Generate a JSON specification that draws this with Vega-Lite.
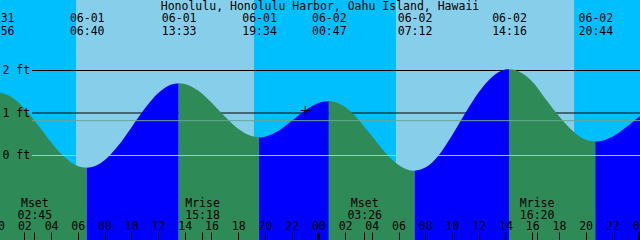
{
  "$schema": "https://vega.github.io/schema/vega-lite/v6.json",
  "width": 640,
  "height": 240,
  "autosize": {"type": "none"},
  "padding": 0,
  "title": {
    "text": "Honolulu, Honolulu Harbor, Oahu Island, Hawaii",
    "anchor": "middle",
    "frame": "group",
    "offset": -21,
    "baseline": "alphabetic",
    "font": "DejaVu Sans Mono",
    "fontSize": 11.5,
    "fontWeight": "normal",
    "color": "black"
  },
  "datasets": {
    "sky": [
      {"start": 0, "end": 5.8667, "sun": "night"},
      {"start": 5.8667, "end": 19.1833, "sun": "day"},
      {"start": 19.1833, "end": 29.8167, "sun": "night"},
      {"start": 29.8167, "end": 43.1333, "sun": "day"},
      {"start": 43.1333, "end": 49, "sun": "night"}
    ],
    "levels": [
      {"level": 1, "line": "depth"},
      {"level": 2, "line": "depth"},
      {"level": 0, "line": "datum"},
      {"level": 0.82, "line": "msl"}
    ],
    "tide": [
      {"hour": -0.0667, "ft": 1.49, "seg": 1, "phase": "falling"},
      {"hour": 1, "ft": 1.382, "seg": 1, "phase": "falling"},
      {"hour": 2, "ft": 1.108, "seg": 1, "phase": "falling"},
      {"hour": 3, "ft": 0.724, "seg": 1, "phase": "falling"},
      {"hour": 4, "ft": 0.314, "seg": 1, "phase": "falling"},
      {"hour": 5, "ft": -0.033, "seg": 1, "phase": "falling"},
      {"hour": 6, "ft": -0.247, "seg": 1, "phase": "falling"},
      {"hour": 6.6667, "ft": -0.29, "seg": 1, "phase": "falling"},
      {"hour": 6.6667, "ft": -0.29, "seg": 2, "phase": "rising"},
      {"hour": 7, "ft": -0.279, "seg": 2, "phase": "rising"},
      {"hour": 8, "ft": -0.112, "seg": 2, "phase": "rising"},
      {"hour": 9, "ft": 0.222, "seg": 2, "phase": "rising"},
      {"hour": 10, "ft": 0.656, "seg": 2, "phase": "rising"},
      {"hour": 11, "ft": 1.098, "seg": 2, "phase": "rising"},
      {"hour": 12, "ft": 1.463, "seg": 2, "phase": "rising"},
      {"hour": 13, "ft": 1.669, "seg": 2, "phase": "rising"},
      {"hour": 13.55, "ft": 1.70, "seg": 2, "phase": "rising"},
      {"hour": 13.55, "ft": 1.70, "seg": 3, "phase": "falling"},
      {"hour": 14, "ft": 1.683, "seg": 3, "phase": "falling"},
      {"hour": 15, "ft": 1.527, "seg": 3, "phase": "falling"},
      {"hour": 16, "ft": 1.248, "seg": 3, "phase": "falling"},
      {"hour": 17, "ft": 0.92, "seg": 3, "phase": "falling"},
      {"hour": 18, "ft": 0.631, "seg": 3, "phase": "falling"},
      {"hour": 19, "ft": 0.458, "seg": 3, "phase": "falling"},
      {"hour": 19.5667, "ft": 0.43, "seg": 3, "phase": "falling"},
      {"hour": 19.5667, "ft": 0.43, "seg": 4, "phase": "rising"},
      {"hour": 20, "ft": 0.444, "seg": 4, "phase": "rising"},
      {"hour": 21, "ft": 0.579, "seg": 4, "phase": "rising"},
      {"hour": 22, "ft": 0.81, "seg": 4, "phase": "rising"},
      {"hour": 23, "ft": 1.058, "seg": 4, "phase": "rising"},
      {"hour": 24, "ft": 1.234, "seg": 4, "phase": "rising"},
      {"hour": 24.7833, "ft": 1.28, "seg": 4, "phase": "rising"},
      {"hour": 24.7833, "ft": 1.28, "seg": 5, "phase": "falling"},
      {"hour": 25, "ft": 1.275, "seg": 5, "phase": "falling"},
      {"hour": 26, "ft": 1.139, "seg": 5, "phase": "falling"},
      {"hour": 27, "ft": 0.843, "seg": 5, "phase": "falling"},
      {"hour": 28, "ft": 0.457, "seg": 5, "phase": "falling"},
      {"hour": 29, "ft": 0.07, "seg": 5, "phase": "falling"},
      {"hour": 30, "ft": -0.222, "seg": 5, "phase": "falling"},
      {"hour": 31, "ft": -0.356, "seg": 5, "phase": "falling"},
      {"hour": 31.2, "ft": -0.36, "seg": 5, "phase": "falling"},
      {"hour": 31.2, "ft": -0.36, "seg": 6, "phase": "rising"},
      {"hour": 32, "ft": -0.285, "seg": 6, "phase": "rising"},
      {"hour": 33, "ft": 0.003, "seg": 6, "phase": "rising"},
      {"hour": 34, "ft": 0.47, "seg": 6, "phase": "rising"},
      {"hour": 35, "ft": 1.0, "seg": 6, "phase": "rising"},
      {"hour": 36, "ft": 1.49, "seg": 6, "phase": "rising"},
      {"hour": 37, "ft": 1.85, "seg": 6, "phase": "rising"},
      {"hour": 38, "ft": 2.022, "seg": 6, "phase": "rising"},
      {"hour": 38.2667, "ft": 2.03, "seg": 6, "phase": "rising"},
      {"hour": 38.2667, "ft": 2.03, "seg": 7, "phase": "falling"},
      {"hour": 39, "ft": 1.977, "seg": 7, "phase": "falling"},
      {"hour": 40, "ft": 1.74, "seg": 7, "phase": "falling"},
      {"hour": 41, "ft": 1.33, "seg": 7, "phase": "falling"},
      {"hour": 42, "ft": 0.93, "seg": 7, "phase": "falling"},
      {"hour": 43, "ft": 0.59, "seg": 7, "phase": "falling"},
      {"hour": 44, "ft": 0.37, "seg": 7, "phase": "falling"},
      {"hour": 44.7333, "ft": 0.33, "seg": 7, "phase": "falling"},
      {"hour": 44.7333, "ft": 0.33, "seg": 8, "phase": "rising"},
      {"hour": 45, "ft": 0.335, "seg": 8, "phase": "rising"},
      {"hour": 46, "ft": 0.443, "seg": 8, "phase": "rising"},
      {"hour": 47, "ft": 0.658, "seg": 8, "phase": "rising"},
      {"hour": 48, "ft": 0.914, "seg": 8, "phase": "rising"},
      {"hour": 49, "ft": 1.133, "seg": 8, "phase": "rising"}
    ],
    "now": [
      {"hour": 23.0167, "ft": 1.06}
    ]
  },
  "resolve": {"scale": {"color": "independent"}, "axis": {"x": "independent", "y": "independent"}},
  "layer": [
    {
      "data": {"name": "sky"},
      "mark": {"type": "rect", "clip": true},
      "encoding": {
        "x": {
          "field": "start", "type": "quantitative",
          "scale": {"domain": [0.1796, 48.0696], "nice": false, "zero": false},
          "axis": {
            "orient": "top", "title": null, "offset": -21, "ticks": false, "tickSize": 0, "domain": false, "grid": false, "zindex": 1,
            "labelPadding": 0, "labelBaseline": "alphabetic", "labelLineHeight": 13, "labelAlign": "center",
            "values": [0.18, 6.6667, 13.55, 19.5667, 24.7833, 31.2, 38.2667, 44.7333],
            "labelOffset": {"condition": {"test": "datum.value < 0.5", "value": -3.3}, "value": 0},
            "labelExpr": "[timeFormat(time(datetime(2025, 5, 1)) + round((datum.value < 0.5 ? -0.0667 : datum.value) * 60) * 60000, '%m-%d') + ' ', timeFormat(time(datetime(2025, 5, 1)) + round((datum.value < 0.5 ? -0.0667 : datum.value) * 60) * 60000, '%H:%M')]"
          }
        },
        "x2": {"field": "end"},
        "color": {"field": "sun", "type": "nominal", "scale": {"domain": ["day", "night"], "range": ["#87CEEB", "#00BFFF"]}, "legend": null}
      }
    },
    {
      "data": {"name": "levels"},
      "transform": [{"filter": "datum.line === 'depth'"}],
      "mark": {"type": "rule", "color": "black", "strokeWidth": 1},
      "encoding": {
        "x": {"datum": 2.574, "type": "quantitative", "scale": {"domain": [0.1796, 48.0696], "nice": false, "zero": false}, "axis": null},
        "x2": {"datum": 48.0696},
        "y": {"field": "level", "type": "quantitative", "scale": {"domain": [-1.988, 3.659], "nice": false, "zero": false}, "axis": null}
      }
    },
    {
      "data": {"name": "tide"},
      "mark": {"type": "area", "interpolate": "monotone", "clip": true},
      "encoding": {
        "x": {
          "field": "hour", "type": "quantitative",
          "scale": {"domain": [0.1796, 48.0696], "nice": false, "zero": false},
          "axis": {
            "orient": "bottom", "title": null, "offset": -8, "tickSize": 8, "domain": false, "grid": false, "zindex": 1,
            "values": [0.18, 2, 4, 6, 8, 10, 12, 14, 16, 18, 20, 22, 24, 26, 28, 30, 32, 34, 36, 38, 40, 42, 44, 46, 48],
            "labelExpr": "(floor(datum.value) % 24 < 10 ? '0' : '') + (floor(datum.value) % 24)",
            "labelPadding": -10.5, "labelBaseline": "alphabetic",
            "labelOffset": {"condition": {"test": "datum.value < 0.5", "value": -2.4}, "value": 0},
            "tickOpacity": {"condition": {"test": "datum.value < 0.5", "value": 0}, "value": 1},
            "tickWidth": {"condition": {"test": "datum.value % 24 === 0", "value": 3}, "value": 1}
          }
        },
        "y": {
          "field": "ft", "type": "quantitative",
          "scale": {"domain": [-1.988, 3.659], "nice": false, "zero": false},
          "axis": {"orient": "left", "title": null, "values": [0, 1, 2], "labelExpr": "datum.value + ' ft'", "domain": false, "ticks": false, "tickSize": 0, "grid": false, "zindex": 1, "labelAlign": "left", "labelBaseline": "middle", "labelPadding": -2, "labelFont": "DejaVu Sans Mono", "labelFontSize": 11.5, "labelColor": "black"}
        },
        "y2": {"datum": -1.988},
        "color": {"field": "phase", "type": "nominal", "scale": {"domain": ["falling", "rising"], "range": ["#2E8B57", "#0000FF"]}, "legend": null},
        "detail": {"field": "seg", "type": "nominal"}
      }
    },
    {
      "data": {"name": "levels"},
      "transform": [{"filter": "datum.line === 'datum'"}],
      "mark": {"type": "rule", "color": "#87CEEB", "strokeWidth": 1},
      "encoding": {
        "x": {"datum": 2.574, "type": "quantitative", "scale": {"domain": [0.1796, 48.0696], "nice": false, "zero": false},
              "axis": {
                "orient": "bottom", "title": null, "offset": -8, "tickSize": 8, "domain": false, "grid": false, "zindex": 1,
                "values": [2.75, 27.4333],
                "labelExpr": "['Mset', timeFormat(time(datetime(2025, 5, 1)) + round(datum.value * 60) * 60000, '%H:%M')]",
                "labelPadding": -33.5, "labelBaseline": "alphabetic", "labelLineHeight": 12, "labelAlign": "center"
              }},
        "x2": {"datum": 48.0696},
        "y": {"field": "level", "type": "quantitative", "scale": {"domain": [-1.988, 3.659], "nice": false, "zero": false}, "axis": null}
      }
    },
    {
      "data": {"name": "levels"},
      "transform": [{"filter": "datum.line === 'msl'"}],
      "mark": {"type": "rule", "color": "#66A894", "strokeWidth": 1},
      "encoding": {
        "x": {"datum": 2.574, "type": "quantitative", "scale": {"domain": [0.1796, 48.0696], "nice": false, "zero": false},
              "axis": {
                "orient": "bottom", "title": null, "offset": -8, "tickSize": 8, "domain": false, "grid": false, "zindex": 1,
                "values": [15.3, 40.3333],
                "labelExpr": "['Mrise', timeFormat(time(datetime(2025, 5, 1)) + round(datum.value * 60) * 60000, '%H:%M')]",
                "labelPadding": -33.5, "labelBaseline": "alphabetic", "labelLineHeight": 12, "labelAlign": "center"
              }},
        "x2": {"datum": 48.0696},
        "y": {"field": "level", "type": "quantitative", "scale": {"domain": [-1.988, 3.659], "nice": false, "zero": false}, "axis": null}
      }
    },
    {
      "data": {"name": "now"},
      "mark": {"type": "point", "shape": "M-1,0H1M0,-1V1", "filled": false, "stroke": "black", "strokeWidth": 1, "size": 81, "opacity": 1},
      "encoding": {
        "x": {"field": "hour", "type": "quantitative", "scale": {"domain": [0.1796, 48.0696], "nice": false, "zero": false}, "axis": null},
        "y": {"field": "ft", "type": "quantitative", "scale": {"domain": [-1.988, 3.659], "nice": false, "zero": false}, "axis": null}
      }
    }
  ],
  "config": {
    "view": {"stroke": null},
    "font": "DejaVu Sans Mono",
    "axis": {
      "labelFont": "DejaVu Sans Mono",
      "labelFontSize": 11.5,
      "labelColor": "black",
      "tickColor": "black",
      "labelFlush": false,
      "labelOverlap": false,
      "labelBound": false
    }
  }
}
